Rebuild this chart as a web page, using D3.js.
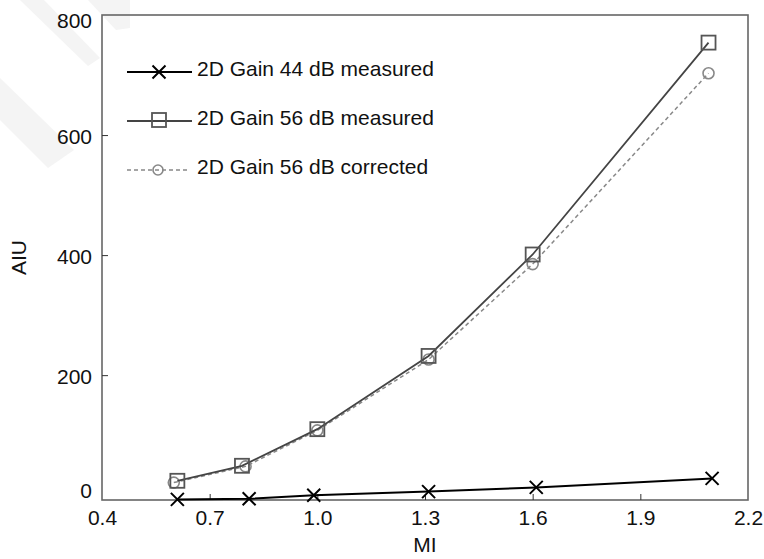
<!DOCTYPE html>
<html>
<head>
<meta charset="utf-8">
<script src="https://cdn.jsdelivr.net/npm/d3@7"></script>
<style>
  html, body { margin: 0; padding: 0; background: #fff; }
  svg { display: block; font-family: "Liberation Sans", Arial, sans-serif; }
</style>
</head>
<body>
<svg id="chart" width="764" height="559"></svg>
<script>
// Mechanical index values per series
const mi44 = [0.61, 0.81, 0.99, 1.31, 1.61, 2.10];
const mi56 = [0.61, 0.79, 1.00, 1.31, 1.60, 2.09];
const miCorr = [0.60, 0.80, 1.00, 1.31, 1.60, 2.09];

// Acoustic intensity units
const gain44Measured = [-7, -6, 0, 6, 13, 28];
const gain56Measured = [24, 49, 110, 232, 401, 754];
const gain56Corrected = [21, 48, 108, 226, 385, 703];

const seriesNames = [
  "2D Gain 44 dB measured",
  "2D Gain 56 dB measured",
  "2D Gain 56 dB corrected"
];

const xTicks = [0.4, 0.7, 1.0, 1.3, 1.6, 1.9, 2.2];
const yTicks = [0, 200, 400, 600, 800];

const svg = d3.select("#chart");
const W = 764, H = 559;
const m = { left: 102, right: 16, top: 15, bottom: 59 };

const x = d3.scaleLinear().domain([0.4, 2.2]).range([m.left, W - m.right]);
const y = d3.scaleLinear().domain([-8, 800]).range([H - m.bottom, m.top]);

// faint diagonal stripes in the upper-left corner
const stripes = [
  [[20, 0], [44, 0], [100, 58], [88, 66]],
  [[88, 0], [130, 0], [130, 28], [116, 30]],
  [[0, 78], [0, 120], [48, 168], [74, 150]]
];
svg.append("g").selectAll("polygon").data(stripes).join("polygon")
  .attr("points", d => d.map(p => p.join(",")).join(" "))
  .attr("fill", "#f4f4f4");

// plot frame
svg.append("rect")
  .attr("x", x(0.4)).attr("y", y(800))
  .attr("width", x(2.2) - x(0.4)).attr("height", y(-8) - y(800))
  .attr("fill", "none").attr("stroke", "#666").attr("stroke-width", 1.6);

// bottom axis: inward ticks on the frame, labels below
const xAxis = svg.append("g")
  .attr("transform", `translate(0,${y(-8)})`)
  .call(d3.axisBottom(x).tickValues(xTicks).tickFormat(d3.format(".1f")).tickSizeInner(-6).tickSizeOuter(0).tickPadding(10));
xAxis.select(".domain").remove();
xAxis.selectAll(".tick line").attr("stroke", "#333").attr("stroke-width", 1)
  .filter(d => d === 0.4 || d === 2.2).remove();
xAxis.selectAll("text").attr("font-size", 21).attr("fill", "#111")
  .attr("font-family", "Liberation Sans, Arial, sans-serif");

// left axis
const yAxis = svg.append("g")
  .attr("transform", `translate(${x(0.4)},0)`)
  .call(d3.axisLeft(y).tickValues(yTicks).tickSizeInner(-6).tickSizeOuter(0).tickPadding(10));
yAxis.select(".domain").remove();
yAxis.selectAll(".tick line").attr("stroke", "#333").attr("stroke-width", 1)
  .filter(d => d === 0 || d === 800).remove();
yAxis.selectAll("text").attr("font-size", 21).attr("fill", "#111")
  .attr("font-family", "Liberation Sans, Arial, sans-serif")
  .attr("dy", d => d === 0 ? "0.1em" : d === 800 ? "0.6em" : "0.4em");

// axis titles
svg.append("text").attr("x", (x(0.4) + x(2.2)) / 2).attr("y", 552)
  .attr("text-anchor", "middle").attr("font-size", 21).attr("fill", "#111").text("MI");
svg.append("text").attr("transform", `translate(26,${(y(800) + y(-8)) / 2}) rotate(-90)`)
  .attr("text-anchor", "middle").attr("font-size", 21).attr("fill", "#111").text("AIU");

// marker shapes
function drawCross(g, cx, cy, r) {
  g.append("path")
    .attr("d", `M${cx - r},${cy - r}L${cx + r},${cy + r}M${cx - r},${cy + r}L${cx + r},${cy - r}`)
    .attr("stroke", "#000").attr("stroke-width", 2).attr("fill", "none");
}
function drawSquare(g, cx, cy, s) {
  g.append("rect").attr("x", cx - s / 2).attr("y", cy - s / 2).attr("width", s).attr("height", s)
    .attr("fill", "none").attr("stroke", "#555").attr("stroke-width", 1.8);
}
function drawCircle(g, cx, cy, r) {
  g.append("circle").attr("cx", cx).attr("cy", cy).attr("r", r)
    .attr("fill", "none").attr("stroke", "#888").attr("stroke-width", 1.6);
}

const line = d3.line().x(d => x(d[0])).y(d => y(d[1]));
const plot = svg.append("g");

// 56 dB corrected (dashed, light gray)
const dCorr = d3.zip(miCorr, gain56Corrected);
plot.append("path").datum(dCorr).attr("d", line)
  .attr("fill", "none").attr("stroke", "#888").attr("stroke-width", 1.5).attr("stroke-dasharray", "4,3");
dCorr.forEach(d => drawCircle(plot, x(d[0]), y(d[1]), 5.5));

// 56 dB measured (solid, dark gray)
const d56 = d3.zip(mi56, gain56Measured);
plot.append("path").datum(d56).attr("d", line)
  .attr("fill", "none").attr("stroke", "#444").attr("stroke-width", 1.8);
d56.forEach(d => drawSquare(plot, x(d[0]), y(d[1]), 14));

// 44 dB measured (solid, black)
const d44 = d3.zip(mi44, gain44Measured);
plot.append("path").datum(d44).attr("d", line)
  .attr("fill", "none").attr("stroke", "#000").attr("stroke-width", 2);
d44.forEach(d => drawCross(plot, x(d[0]), y(d[1]), 6.5));

// legend
const legend = svg.append("g");
const rows = [72, 121, 170];
const lx0 = 127, lx1 = 192, lmid = 159;
rows.forEach((ry, i) => {
  const l = legend.append("line").attr("x1", lx0).attr("x2", i === 2 ? 188 : lx1).attr("y1", ry).attr("y2", ry);
  if (i === 0) { l.attr("stroke", "#000").attr("stroke-width", 2); drawCross(legend, lmid, ry, 6.5); }
  if (i === 1) { l.attr("stroke", "#444").attr("stroke-width", 1.8); drawSquare(legend, lmid, ry - 1, 14); }
  if (i === 2) { l.attr("stroke", "#888").attr("stroke-width", 1.5).attr("stroke-dasharray", "4,3"); drawCircle(legend, 158, ry, 5); }
  legend.append("text").attr("x", 197).attr("y", ry + 4).attr("font-size", 21).attr("fill", "#111")
    .text(seriesNames[i]);
});
</script>
</body>
</html>
